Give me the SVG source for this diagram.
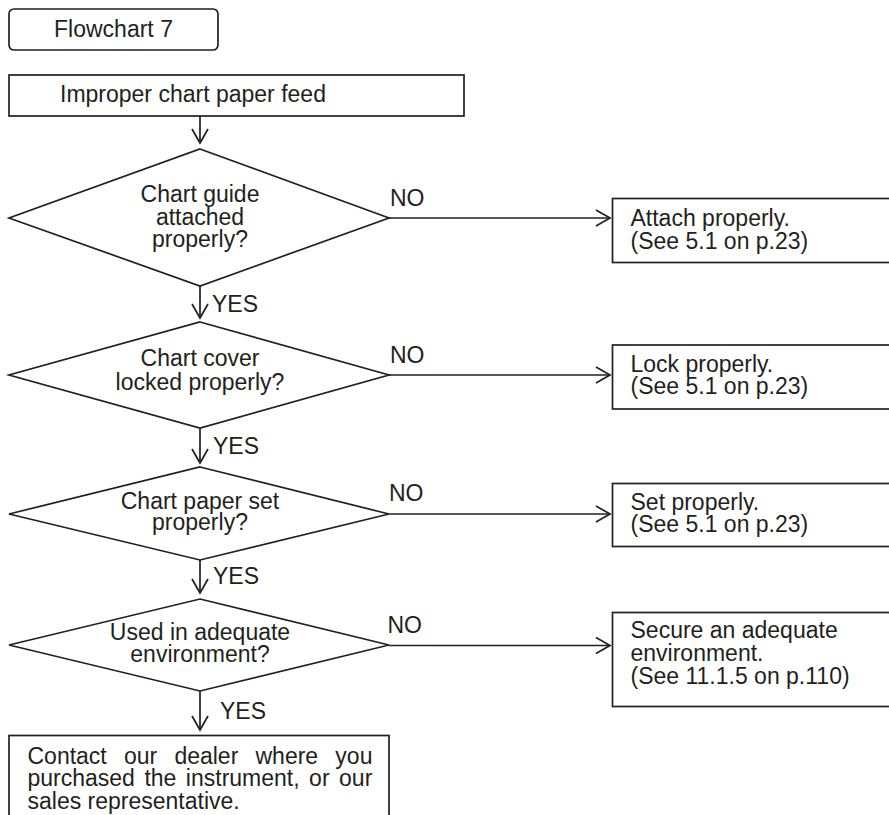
<svg xmlns="http://www.w3.org/2000/svg" width="889" height="815" viewBox="0 0 889 815">
<style>
.shape{fill:#fff;stroke:#231f20;stroke-width:1.7}
.conn{fill:none;stroke:#231f20;stroke-width:1.7}
text{font-family:"Liberation Sans",Arial,sans-serif;font-size:23px;fill:#231f20}
.c{text-anchor:middle}
</style>
<defs>
<marker id="arr" markerUnits="userSpaceOnUse" markerWidth="20" markerHeight="20" viewBox="-16 -10 20 20" refX="0" refY="0" orient="auto">
<path d="M-14,-8 L0,0 L-14,8" fill="none" stroke="#231f20" stroke-width="1.7"/>
</marker>
</defs>
<rect width="889" height="815" fill="#fff"/>
<g id="title"><rect class="shape" x="9" y="9" width="209" height="41" rx="5"/><text class="c" x="113.5" y="37">Flowchart 7</text></g>
<g id="start"><rect class="shape" x="9" y="75" width="455" height="41"/><text x="60" y="102">Improper chart paper feed</text></g>
<g id="d1"><polygon class="shape" points="200,149 389,218 200,286 9,218"/><text class="c" x="200" y="202">Chart guide</text><text class="c" x="200" y="224.5">attached</text><text class="c" x="200" y="247">properly?</text></g>
<g id="d2"><polygon class="shape" points="200,322 389,375 200,428 9,375"/><text class="c" x="200" y="366">Chart cover</text><text class="c" x="200" y="390">locked properly?</text></g>
<g id="d3"><polygon class="shape" points="200,467 389,514 200,560 9,514"/><text class="c" x="200" y="508.5">Chart paper set</text><text class="c" x="200" y="530">properly?</text></g>
<g id="d4"><polygon class="shape" points="200,599 389,645 200,691 9,645"/><text class="c" x="200" y="640">Used in adequate</text><text class="c" x="200" y="662">environment?</text></g>
<g id="r1"><rect class="shape" x="612.5" y="198.5" width="290" height="64"/><text x="630.5" y="226">Attach properly.</text><text x="630.5" y="248.5">(See 5.1 on p.23)</text></g>
<g id="r2"><rect class="shape" x="612.5" y="345" width="290" height="64"/><text x="630.5" y="372">Lock properly.</text><text x="630.5" y="394">(See 5.1 on p.23)</text></g>
<g id="r3"><rect class="shape" x="612.5" y="483.5" width="290" height="63"/><text x="630.5" y="509.5">Set properly.</text><text x="630.5" y="531.5">(See 5.1 on p.23)</text></g>
<g id="r4"><rect class="shape" x="612.5" y="612.5" width="290" height="94"/><text x="630.5" y="638">Secure an adequate</text><text x="630.5" y="661">environment.</text><text x="630.5" y="683.5">(See 11.1.5 on p.110)</text></g>
<g id="end"><rect class="shape" x="9" y="735.5" width="380" height="100"/><text x="27.5" y="763.5" word-spacing="10.8">Contact our dealer where you</text><text x="27.5" y="786" word-spacing="3.1">purchased the instrument, or our</text><text x="27.5" y="808.5">sales representative.</text></g>
<g id="connectors">
<line class="conn" x1="200" y1="116" x2="200" y2="143" marker-end="url(#arr)"/>
<line class="conn" x1="200" y1="286" x2="200" y2="318" marker-end="url(#arr)"/>
<line class="conn" x1="200" y1="428" x2="200" y2="463" marker-end="url(#arr)"/>
<line class="conn" x1="200" y1="560" x2="200" y2="593" marker-end="url(#arr)"/>
<line class="conn" x1="200" y1="691" x2="200" y2="730" marker-end="url(#arr)"/>
<line class="conn" x1="389" y1="218" x2="610" y2="218" marker-end="url(#arr)"/>
<line class="conn" x1="389" y1="375" x2="610" y2="375" marker-end="url(#arr)"/>
<line class="conn" x1="389" y1="514" x2="610" y2="514" marker-end="url(#arr)"/>
<line class="conn" x1="389" y1="645.5" x2="610" y2="645.5" marker-end="url(#arr)"/>
<text x="212" y="312">YES</text>
<text x="213" y="453.5">YES</text>
<text x="213" y="584">YES</text>
<text x="220" y="718.5">YES</text>
<text x="390" y="206">NO</text>
<text x="390" y="362.5">NO</text>
<text x="389" y="501">NO</text>
<text x="387.5" y="632.5">NO</text>
</g>
</svg>
